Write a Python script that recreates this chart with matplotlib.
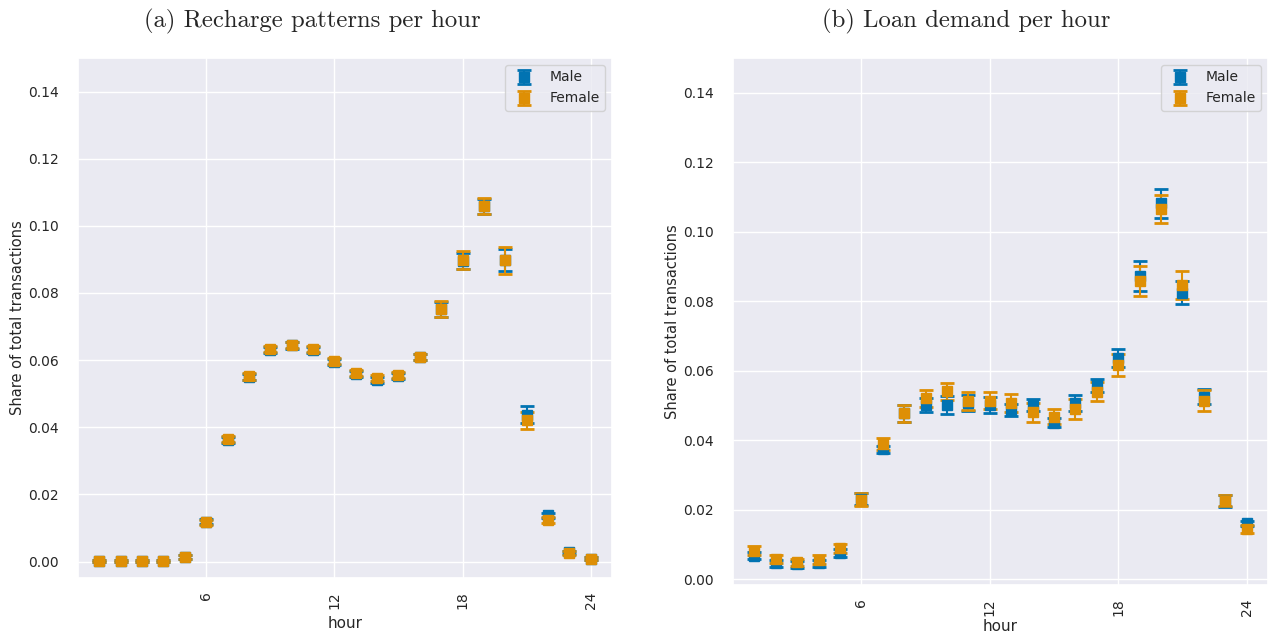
import numpy as np
import matplotlib
matplotlib.use("Agg")
import matplotlib.pyplot as plt
import seaborn as sns

sns.set_theme(style="darkgrid", palette="colorblind")
plt.rcParams["font.family"] = ["DejaVu Sans"]

hours = np.arange(1, 25)

# share of recharges per hour (mean, half-width of 95% CI)
recharge_male = [0.0002, 0.0002, 0.0002, 0.0003, 0.0014, 0.0119, 0.0362, 0.0550,
                 0.0630, 0.0644, 0.0631, 0.0594, 0.0559, 0.0541, 0.0554, 0.0609,
                 0.0751, 0.0895, 0.1058, 0.0898, 0.0437, 0.0138, 0.0027, 0.0008]
recharge_male_err = [0.0003, 0.0003, 0.0003, 0.0003, 0.0005, 0.0008, 0.0010, 0.0010,
                     0.0010, 0.0010, 0.0009, 0.0009, 0.0009, 0.0009, 0.0009, 0.0009,
                     0.0022, 0.0025, 0.0022, 0.0033, 0.0025, 0.0007, 0.0005, 0.0004]
recharge_female = [0.0002, 0.0002, 0.0002, 0.0003, 0.0014, 0.0117, 0.0365, 0.0552,
                   0.0633, 0.0645, 0.0632, 0.0596, 0.0561, 0.0546, 0.0556, 0.0610,
                   0.0751, 0.0897, 0.1059, 0.0897, 0.0421, 0.0124, 0.0025, 0.0008]
recharge_female_err = [0.0003, 0.0003, 0.0003, 0.0003, 0.0005, 0.0008, 0.0010, 0.0010,
                       0.0010, 0.0010, 0.0009, 0.0009, 0.0009, 0.0009, 0.0009, 0.0009,
                       0.0024, 0.0027, 0.0023, 0.0040, 0.0025, 0.0008, 0.0005, 0.0004]

# share of loans per hour
loan_male = [0.0068, 0.0046, 0.0044, 0.0046, 0.0077, 0.0232, 0.0374, 0.0478,
             0.0502, 0.0502, 0.0508, 0.0502, 0.0488, 0.0502, 0.0451, 0.0508,
             0.0558, 0.0637, 0.0873, 0.1082, 0.0825, 0.0526, 0.0226, 0.0162]
loan_male_err = [0.0010, 0.0010, 0.0010, 0.0010, 0.0012, 0.0018, 0.0010, 0.0025,
                 0.0020, 0.0027, 0.0022, 0.0022, 0.0018, 0.0018, 0.0012, 0.0022,
                 0.0020, 0.0027, 0.0043, 0.0042, 0.0033, 0.0022, 0.0017, 0.0007]
loan_female = [0.0083, 0.0059, 0.0050, 0.0057, 0.0090, 0.0229, 0.0389, 0.0478,
               0.0521, 0.0541, 0.0513, 0.0514, 0.0508, 0.0481, 0.0468, 0.0490,
               0.0540, 0.0616, 0.0858, 0.1065, 0.0847, 0.0514, 0.0226, 0.0145]
loan_female_err = [0.0012, 0.0012, 0.0010, 0.0012, 0.0013, 0.0019, 0.0018, 0.0025,
                   0.0024, 0.0025, 0.0026, 0.0024, 0.0026, 0.0027, 0.0022, 0.0029,
                   0.0027, 0.0032, 0.0043, 0.0041, 0.0040, 0.0030, 0.0016, 0.0012]

groups = ["Male", "Female"]
colors = ["#0173B2", "#DE8F05"]

# title, series, axes rect, y-limits, title x, xlabel pad
panels = [
    ("(a) Recharge patterns per hour",
     [(recharge_male, recharge_male_err), (recharge_female, recharge_female_err)],
     [0.0615, 0.0898, 0.4208, 0.8189], (-0.0049, 0.15), 0.246, 5),
    ("(b) Loan demand per hour",
     [(loan_male, loan_male_err), (loan_female, loan_female_err)],
     [0.5776, 0.0787, 0.4216, 0.8300], (-0.0016, 0.15), 0.761, 2),
]

fig = plt.figure(figsize=(12.69, 6.35), dpi=100)

for title, series, rect, ylim, title_x, xpad in panels:
    ax = fig.add_axes(rect)
    for name, color, (vals, errs) in zip(groups, colors, series):
        ax.errorbar(hours, vals, yerr=errs, fmt="s", color=color, ecolor=color,
                    markersize=7, elinewidth=1.5, capsize=5, capthick=2,
                    label=name)
    ax.set_xlim(0, 25)
    ax.set_ylim(*ylim)
    ax.set_xticks([6, 12, 18, 24])
    ax.set_yticks(np.arange(0, 0.15, 0.02))
    ax.set_yticklabels([f"{v:.2f}" for v in np.arange(0, 0.15, 0.02)])
    ax.tick_params(axis="x", labelrotation=90, labelsize=10)
    ax.tick_params(axis="y", labelsize=10, pad=8)
    ax.set_xlabel("hour", fontsize=11, labelpad=xpad)
    ax.set_ylabel("Share of total transactions", fontsize=10.5, labelpad=2)
    ax.legend(loc="upper right", fontsize=10)
    fig.text(title_x, 0.966, title, ha="center", va="center",
             fontsize=17.8, family="cmr10")

fig.savefig("out.png", dpi=100)
